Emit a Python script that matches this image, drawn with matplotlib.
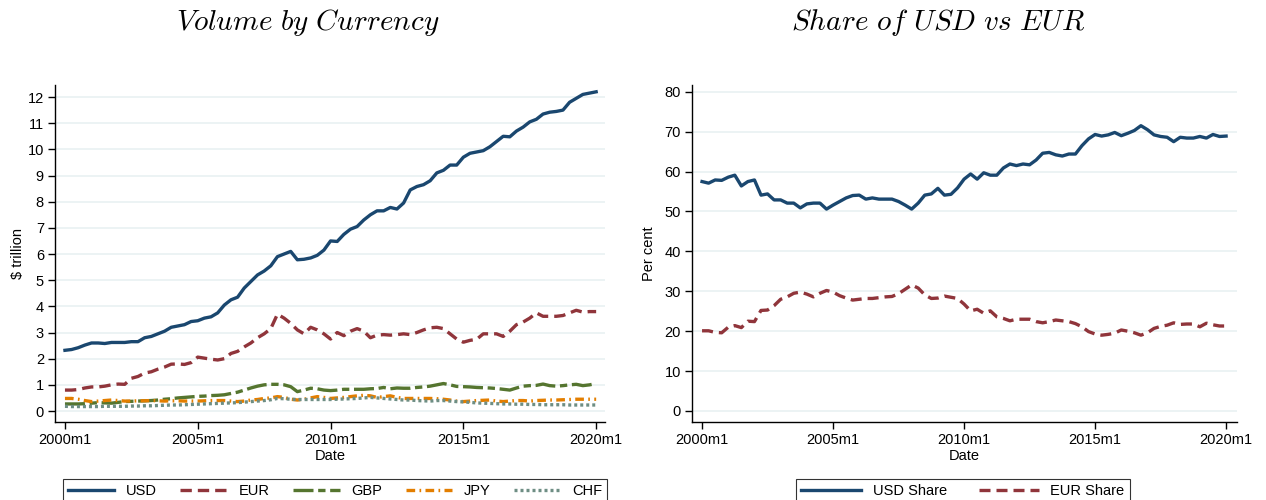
import numpy as np
import matplotlib
matplotlib.use("Agg")
import matplotlib.pyplot as plt

plt.rcParams['font.family'] = ['Liberation Sans', 'DejaVu Sans']
plt.rcParams['mathtext.fontset'] = 'cm'

# quarterly observations, 2000m1 .. 2020m1 (months since 2000m1)
months = np.arange(0, 241, 3)

usd = [2.32, 2.35, 2.42, 2.52, 2.60, 2.60, 2.58, 2.62, 2.62, 2.62, 2.65, 2.65,
       2.80, 2.85, 2.95, 3.05, 3.20, 3.25, 3.30, 3.42, 3.45, 3.55, 3.60, 3.75,
       4.05, 4.25, 4.35, 4.70, 4.95, 5.20, 5.35, 5.55, 5.90, 6.00, 6.10, 5.78,
       5.80, 5.85, 5.95, 6.15, 6.50, 6.48, 6.75, 6.95, 7.05, 7.30, 7.50, 7.65,
       7.65, 7.78, 7.72, 7.95, 8.45, 8.58, 8.65, 8.80, 9.10, 9.20, 9.40, 9.40,
       9.70, 9.85, 9.90, 9.95, 10.10, 10.30, 10.50, 10.48, 10.70, 10.85, 11.05, 11.15,
       11.35, 11.42, 11.45, 11.50, 11.80, 11.95, 12.10, 12.15, 12.20]
eur = [0.80, 0.80, 0.82, 0.88, 0.92, 0.92, 0.95, 1.00, 1.03, 1.02, 1.25, 1.32,
       1.45, 1.50, 1.60, 1.68, 1.79, 1.80, 1.78, 1.85, 2.06, 2.02, 1.98, 1.95,
       2.00, 2.20, 2.28, 2.45, 2.60, 2.80, 2.95, 3.15, 3.70, 3.55, 3.35, 3.10,
       2.95, 3.20, 3.10, 2.95, 2.75, 3.00, 2.88, 3.05, 3.15, 3.05, 2.80, 2.90,
       2.92, 2.90, 2.92, 2.95, 2.92, 3.00, 3.10, 3.18, 3.20, 3.15, 2.95, 2.75,
       2.63, 2.70, 2.74, 2.95, 2.95, 2.95, 2.85, 3.05, 3.30, 3.40, 3.55, 3.75,
       3.62, 3.62, 3.62, 3.65, 3.75, 3.85, 3.78, 3.80, 3.80]
gbp = [0.27, 0.27, 0.27, 0.28, 0.30, 0.32, 0.31, 0.30, 0.33, 0.36, 0.37, 0.38,
       0.39, 0.40, 0.42, 0.45, 0.47, 0.50, 0.52, 0.54, 0.56, 0.57, 0.59, 0.60,
       0.62, 0.67, 0.72, 0.80, 0.88, 0.95, 1.00, 1.02, 1.02, 1.00, 0.93, 0.74,
       0.80, 0.87, 0.85, 0.80, 0.78, 0.80, 0.83, 0.83, 0.83, 0.83, 0.85, 0.86,
       0.90, 0.85, 0.88, 0.87, 0.87, 0.90, 0.92, 0.95, 1.00, 1.05, 1.00, 0.94,
       0.93, 0.92, 0.90, 0.89, 0.88, 0.86, 0.83, 0.80, 0.88, 0.95, 0.97, 0.98,
       1.03, 0.97, 0.95, 0.97, 1.00, 1.02, 0.97, 1.00, 1.05]
jpy = [0.48, 0.48, 0.45, 0.40, 0.36, 0.38, 0.40, 0.42, 0.40, 0.38, 0.38, 0.39,
       0.39, 0.40, 0.39, 0.38, 0.39, 0.39, 0.38, 0.38, 0.38, 0.39, 0.40, 0.40,
       0.40, 0.38, 0.36, 0.38, 0.42, 0.44, 0.48, 0.50, 0.55, 0.52, 0.45, 0.42,
       0.45, 0.50, 0.55, 0.52, 0.48, 0.50, 0.52, 0.55, 0.58, 0.60, 0.58, 0.52,
       0.55, 0.58, 0.52, 0.48, 0.48, 0.48, 0.48, 0.48, 0.47, 0.45, 0.42, 0.38,
       0.36, 0.38, 0.40, 0.41, 0.42, 0.38, 0.36, 0.38, 0.40, 0.40, 0.38, 0.40,
       0.41, 0.42, 0.42, 0.43, 0.44, 0.45, 0.45, 0.45, 0.45]
chf = [0.18, 0.17, 0.17, 0.17, 0.17, 0.17, 0.18, 0.18, 0.18, 0.18, 0.19, 0.19,
       0.20, 0.20, 0.21, 0.22, 0.23, 0.23, 0.24, 0.25, 0.26, 0.27, 0.28, 0.29,
       0.30, 0.31, 0.32, 0.34, 0.36, 0.38, 0.40, 0.43, 0.48, 0.47, 0.45, 0.44,
       0.44, 0.44, 0.44, 0.44, 0.44, 0.45, 0.46, 0.47, 0.48, 0.50, 0.52, 0.50,
       0.48, 0.46, 0.44, 0.42, 0.42, 0.40, 0.39, 0.38, 0.40, 0.40, 0.38, 0.36,
       0.35, 0.33, 0.31, 0.30, 0.29, 0.28, 0.27, 0.27, 0.26, 0.26, 0.25, 0.25,
       0.24, 0.24, 0.24, 0.24, 0.23, 0.23, 0.23, 0.23, 0.23]

usd_share = [57.5, 57.1, 57.9, 57.8, 58.6, 59.1, 56.4, 57.5, 57.9, 54.1, 54.4, 52.9,
             52.9, 52.1, 52.1, 50.9, 51.9, 52.1, 52.1, 50.6, 51.6, 52.5, 53.4, 54.0,
             54.1, 53.1, 53.4, 53.1, 53.1, 53.1, 52.5, 51.6, 50.6, 52.1, 54.1, 54.4,
             55.8, 54.1, 54.3, 55.9, 58.1, 59.4, 58.1, 59.7, 59.1, 59.1, 60.9, 61.9,
             61.5, 61.9, 61.7, 62.9, 64.6, 64.8, 64.2, 63.9, 64.4, 64.4, 66.5, 68.2,
             69.3, 68.9, 69.2, 69.8, 69.0, 69.6, 70.3, 71.5, 70.5, 69.2, 68.8, 68.6,
             67.5, 68.6, 68.4, 68.4, 68.8, 68.4, 69.3, 68.8, 68.9]
eur_share = [20.1, 20.1, 19.7, 19.6, 21.0, 21.4, 20.9, 22.5, 22.4, 25.2, 25.3, 26.4,
             28.0, 28.6, 29.5, 29.8, 29.3, 28.6, 29.5, 30.2, 29.8, 28.9, 28.3, 27.8,
             28.0, 28.2, 28.2, 28.4, 28.6, 28.7, 29.4, 30.5, 31.6, 30.8, 29.1, 28.2,
             28.3, 28.8, 28.5, 28.2, 26.8, 25.1, 25.5, 24.5, 25.1, 23.6, 23.2, 22.6,
             23.0, 23.0, 23.0, 22.4, 22.1, 22.4, 22.8, 22.6, 22.4, 21.9, 21.1, 19.9,
             19.3, 19.0, 19.2, 19.5, 20.3, 20.0, 19.6, 19.0, 19.6, 20.7, 21.2, 21.5,
             22.1, 21.7, 21.8, 21.8, 21.1, 22.0, 21.6, 21.3, 21.3]

tick_months = [0, 60, 120, 180, 240]
tick_labels = ['2000m1', '2005m1', '2010m1', '2015m1', '2020m1']

navy = '#1a476f'
maroon = '#90353b'
green = '#55752f'
orange = '#e37e00'
teal = '#6e8e84'
lw = 2.4

fig = plt.figure(figsize=(12.66, 5.0), dpi=100)
ax1 = fig.add_axes([55 / 1266, 78 / 500, 550 / 1266, 337 / 500])
ax2 = fig.add_axes([692 / 1266, 78 / 500, 545 / 1266, 337 / 500])


def style(ax):
    for s in ['top', 'right']:
        ax.spines[s].set_visible(False)
    ax.spines['left'].set_linewidth(1.0)
    ax.spines['bottom'].set_linewidth(1.0)
    ax.yaxis.grid(True, color='#eaf2f3', linewidth=1.3)
    ax.set_axisbelow(True)
    ax.tick_params(direction='out', length=5, width=1, labelsize=10.5, pad=3)
    ax.set_xticks(tick_months)
    ax.set_xticklabels(tick_labels)
    ax.set_xlabel('Date', fontsize=10.5, labelpad=1)


ax1.plot(months, usd, color=navy, lw=lw, label='USD')
ax1.plot(months, eur, color=maroon, lw=lw, dashes=(3.4, 1.8), label='EUR')
ax1.plot(months, gbp, color=green, lw=lw, dashes=(6.0, 1.4, 2.2, 1.4), label='GBP')
ax1.plot(months, jpy, color=orange, lw=lw, dashes=(2.6, 1.3, 0.5, 1.3), label='JPY')
ax1.plot(months, chf, color=teal, lw=lw, dashes=(0.9, 0.9), label='CHF')
style(ax1)
ax1.set_xlim(-4.5, 244)
ax1.set_ylim(-0.42, 12.46)
ax1.set_yticks(range(0, 13))
ax1.set_ylabel(r'\$ trillion', fontsize=10.5, labelpad=2)

ax2.plot(months, usd_share, color=navy, lw=lw, label='USD Share')
ax2.plot(months, eur_share, color=maroon, lw=lw, dashes=(3.3, 1.8), label='EUR Share')
style(ax2)
ax2.set_xlim(-4.6, 245)
ax2.set_ylim(-2.76, 81.7)
ax2.set_yticks(range(0, 81, 10))
ax2.set_ylabel('Per cent', fontsize=10.5, labelpad=6)

fig.text(308 / 1266, 1 - 23 / 500, r'$Volume\ by\ Currency$', ha='center', va='center', fontsize=21)
fig.text(938 / 1266, 1 - 23 / 500, r'$Share\ of\ USD\ vs\ EUR$', ha='center', va='center', fontsize=21)

leg_kw = dict(loc='upper center', frameon=True, fancybox=False, fontsize=10.5,
              borderpad=0.35, columnspacing=1.6, handletextpad=0.8)
l1 = fig.legend(handles=ax1.get_lines(), ncol=5, handlelength=3.2,
                bbox_to_anchor=(335 / 1266, 1 - 472 / 500), **leg_kw)
l2 = fig.legend(handles=ax2.get_lines(), ncol=2, handlelength=4.1, columnspacing=2.2,
                bbox_to_anchor=(963 / 1266, 1 - 472 / 500),
                **{k: v for k, v in leg_kw.items() if k != 'columnspacing'})
for l in (l1, l2):
    l.get_frame().set_edgecolor('black')
    l.get_frame().set_linewidth(0.8)

fig.savefig('out.png', dpi=100)
